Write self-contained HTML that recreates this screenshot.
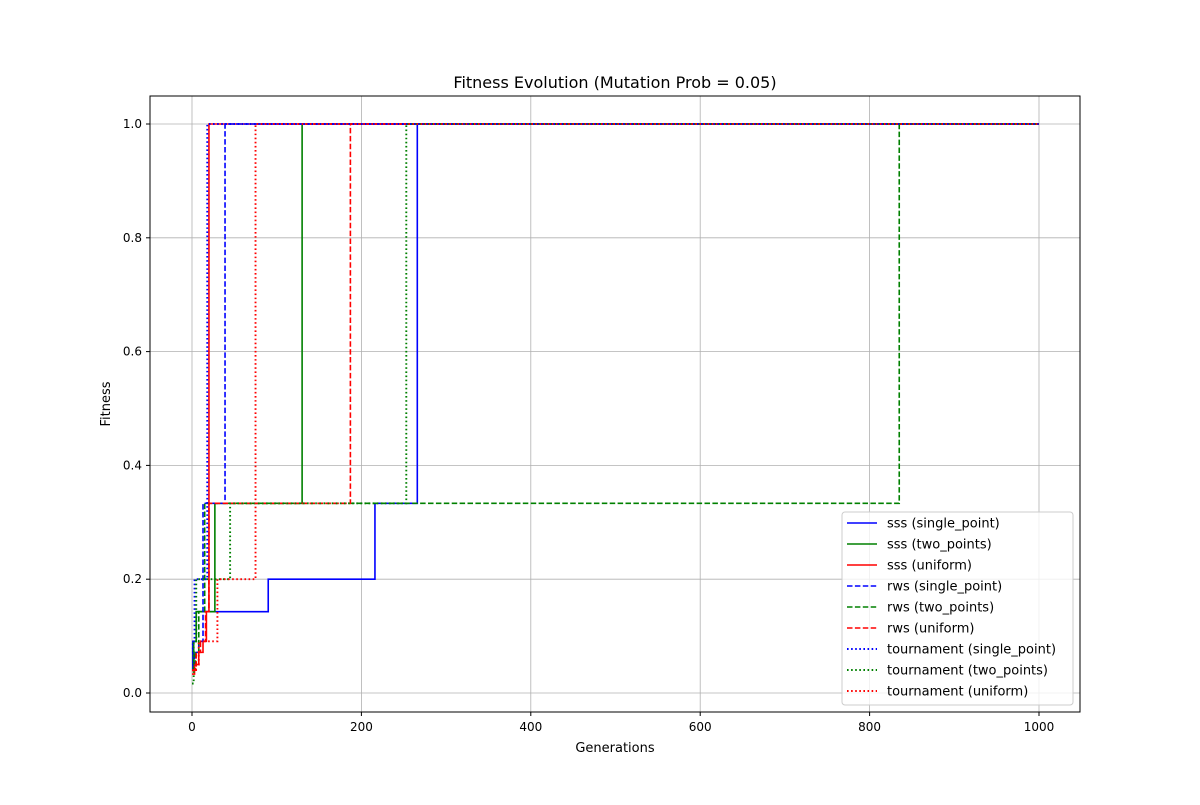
<!DOCTYPE html>
<html><head><meta charset="utf-8"><style>
body{margin:0;background:#fff;font-family:"Liberation Sans","DejaVu Sans",sans-serif}
svg text{font-family:"DejaVu Sans","Liberation Sans",sans-serif;fill:#000}
</style></head><body>
<svg id="chart" width="1200" height="800" xmlns="http://www.w3.org/2000/svg">
<rect width="1200" height="800" fill="#fff"/>
<g id="grid"></g>
<g id="series"></g>
<rect x="150" y="96" width="930" height="616" fill="none" stroke="#000" stroke-width="1"/>
<g id="ticks"></g>
<text x="615" y="88" text-anchor="middle" font-size="16">Fitness Evolution (Mutation Prob = 0.05)</text>
<text x="615" y="752" text-anchor="middle" font-size="13">Generations</text>
<text x="110" y="404" text-anchor="middle" font-size="13" transform="rotate(-90 110 404)">Fitness</text>
<g id="legend"></g>
</svg>
<script>
const xTicks=[0,200,400,600,800,1000];
const yTicks=[0.0,0.2,0.4,0.6,0.8,1.0];
const seriesNames=["sss (single_point)","sss (two_points)","sss (uniform)","rws (single_point)","rws (two_points)","rws (uniform)","tournament (single_point)","tournament (two_points)","tournament (uniform)"];
const seriesColors=["#0000ff","#008000","#ff0000","#0000ff","#008000","#ff0000","#0000ff","#008000","#ff0000"];
const seriesDash=["","","","5.5,2.4","5.5,2.4","5.5,2.4","1.6,2.5","1.6,2.5","1.6,2.5"];
const s1Gen=[0,1,5,90,216,266,1000];
const s1Fit=[0.04,0.0909,0.1429,0.2,0.3333,1.0,1.0];
const s2Gen=[0,2,5,27,130,1000];
const s2Fit=[0.04,0.0909,0.1429,0.3333,1.0,1.0];
const s3Gen=[0,3,8,13,17,20,1000];
const s3Fit=[0.0333,0.05,0.0714,0.0909,0.1429,1.0,1.0];
const r1Gen=[0,3,8,13,39,1000];
const r1Fit=[0.05,0.0714,0.0909,0.3333,1.0,1.0];
const r2Gen=[0,4,8,15,835,1000];
const r2Fit=[0.04,0.0714,0.1429,0.3333,1.0,1.0];
const r3Gen=[0,5,10,16,20,187,1000];
const r3Fit=[0.04,0.0714,0.0909,0.1429,0.3333,1.0,1.0];
const t1Gen=[0,1,3,18,1000];
const t1Fit=[0.0714,0.0909,0.2,1.0,1.0];
const t2Gen=[0,2,5,16,45,253,1000];
const t2Fit=[0.0167,0.0909,0.2,0.2,0.3333,1.0,1.0];
const t3Gen=[0,4,8,30,75,1000];
const t3Fit=[0.04,0.05,0.0909,0.2,1.0,1.0];
const allGen=[s1Gen,s2Gen,s3Gen,r1Gen,r2Gen,r3Gen,t1Gen,t2Gen,t3Gen];
const allFit=[s1Fit,s2Fit,s3Fit,r1Fit,r2Fit,r3Fit,t1Fit,t2Fit,t3Fit];

const NS="http://www.w3.org/2000/svg";
const X=v=>192+v*0.847, Y=v=>693-v*569;
function mk(tag,attrs,parent){const e=document.createElementNS(NS,tag);for(const k in attrs)e.setAttribute(k,attrs[k]);parent.appendChild(e);return e;}
const grid=document.getElementById('grid'),ticks=document.getElementById('ticks'),ser=document.getElementById('series'),leg=document.getElementById('legend');
xTicks.forEach(t=>{
 const g=mk('line',{x1:X(t),x2:X(t),y1:96,y2:712,stroke:'#b0b0b0','stroke-width':0.8},grid);
 
 
 mk('line',{x1:X(t),x2:X(t),y1:712,y2:716,stroke:'#000'},ticks);
 const tx=mk('text',{x:X(t),y:731,'text-anchor':'middle','font-size':12},ticks);tx.textContent=t;
 
 
});
yTicks.forEach(t=>{
 const g=mk('line',{x1:150,x2:1080,y1:Y(t),y2:Y(t),stroke:'#b0b0b0','stroke-width':0.8},grid);
 
 
 mk('line',{x1:146,x2:150,y1:Y(t),y2:Y(t),stroke:'#000'},ticks);
 const tx=mk('text',{x:142,y:Y(t)+4,'text-anchor':'end','font-size':12},ticks);tx.textContent=t.toFixed(1);
 
 
});
allGen.forEach((gs,i)=>{
 const fs=allFit[i];let d='M'+X(gs[0])+','+Y(fs[0]);
 for(let j=1;j<gs.length;j++){d+=' H'+X(gs[j])+' V'+Y(fs[j]);}
 const p=mk('path',{d:d,fill:'none',stroke:seriesColors[i],'stroke-width':i>=6?1.9:1.6},ser);
 if(seriesDash[i])p.setAttribute('stroke-dasharray',seriesDash[i]);
 
 
});
const lb=mk('rect',{x:842,y:512,width:231,height:193,fill:'#fff','fill-opacity':0.8,stroke:'#ccc',rx:3},leg);


seriesNames.forEach((n,i)=>{
 const y=523+i*21;
 const l=mk('line',{x1:847,x2:877,y1:y,y2:y,stroke:seriesColors[i],'stroke-width':i>=6?1.9:1.6},leg);
 if(seriesDash[i])l.setAttribute('stroke-dasharray',seriesDash[i]);
 const t=mk('text',{x:887,y:y+4.5,'font-size':13},leg);t.textContent=n;
 
 
});
</script>
</body></html>
